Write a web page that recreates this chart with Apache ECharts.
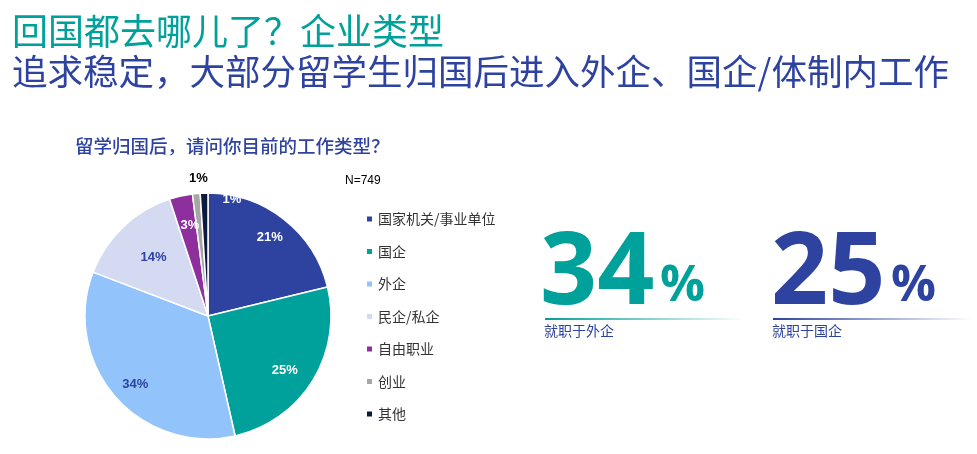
<!DOCTYPE html>
<html>
<head>
<meta charset="UTF-8">
<script src="https://cdn.jsdelivr.net/npm/echarts@6/dist/echarts.min.js"></script>
<style>html,body{margin:0;height:100%;background:#fff}#main{width:977px;height:454px}</style>
</head>
<body>
<div id="main"></div>
<script>
var categories = ['国家机关/事业单位', '国企', '外企', '民企/私企', '自由职业', '创业', '其他'];
var shares = [21, 25, 34, 14, 3, 1, 1];
var colors = ['#2E43A0', '#00A19A', '#93C3FB', '#D3DAF2', '#8D2F9C', '#A6A6A6', '#0D1A3A'];

var font = '"Noto Sans CJK SC", sans-serif';
var myChart = echarts.init(document.getElementById('main'));

// hand-placed label nudges to match the original slide
var labelTweaks = [
  { color: '#fff', offset: [22, -28] },
  { color: '#fff', offset: [22, 20] },
  { color: '#2E43A0', offset: [-24, 26] },
  { color: '#2E43A0', offset: [-10, -12] },
  { color: '#fff', offset: [-4, -28] },
  { position: 'outside', color: '#000', distance: 2, offset: [48, 0] },
  { color: '#fff', offset: [26, -52] }
];

var data = categories.map(function (c, i) {
  return { name: c, value: shares[i], itemStyle: { color: colors[i] }, label: labelTweaks[i] };
});

var option = {
  animation: false,
  legend: {
    orient: 'vertical', left: 360, top: 207, itemGap: 18.5, itemWidth: 7, itemHeight: 7,
    icon: 'rect', textStyle: { fontFamily: font, fontSize: 14, color: '#333' },
    data: categories
  },
  graphic: [
    { type: 'text', left: 12, top: 13, style: { text: '回国都去哪儿了？企业类型', fill: '#00A19A', font: '36px ' + font } },
    { type: 'text', left: 12, top: 54, style: { text: '追求稳定，大部分留学生归国后进入外企、国企/体制内工作', fill: '#2E43A0', font: '35.5px ' + font } },
    { type: 'text', left: 75, top: 137, style: { text: '留学归国后，请问你目前的工作类型？', fill: '#2E43A0', font: '500 18.5px ' + font } },
    { type: 'text', left: 345, top: 175, style: { text: 'N=749', fill: '#000', font: '12px Arial' } },
    { type: 'text', left: 540, top: 226, style: { text: '34', fill: '#00A19A', font: 'bold 100px "Open Sans", sans-serif' } },
    { type: 'text', left: 660, top: 262, style: { text: '%', fill: '#00A19A', font: 'bold 50px "Open Sans", sans-serif' } },
    { type: 'rect', shape: { x: 545, y: 318, width: 200, height: 2 }, style: { fill: new echarts.graphic.LinearGradient(0, 0, 1, 0, [{ offset: 0, color: '#00A19A' }, { offset: 1, color: 'rgba(0,161,154,0)' }]) } },
    { type: 'text', left: 544, top: 324, style: { text: '就职于外企', fill: '#2E43A0', font: '14px ' + font } },
    { type: 'text', left: 771, top: 226, style: { text: '25', fill: '#2E43A0', font: 'bold 100px "Open Sans", sans-serif' } },
    { type: 'text', left: 891, top: 262, style: { text: '%', fill: '#2E43A0', font: 'bold 50px "Open Sans", sans-serif' } },
    { type: 'rect', shape: { x: 773, y: 318, width: 200, height: 2 }, style: { fill: new echarts.graphic.LinearGradient(0, 0, 1, 0, [{ offset: 0, color: '#2E43A0' }, { offset: 1, color: 'rgba(46,67,160,0)' }]) } },
    { type: 'text', left: 772, top: 324, style: { text: '就职于国企', fill: '#2E43A0', font: '14px ' + font } }
  ],
  series: [{
    type: 'pie', center: [208, 316], radius: 123, startAngle: 90, clockwise: true,
    itemStyle: { borderColor: '#fff', borderWidth: 1.5 },
    label: { show: true, position: 'inside', formatter: '{c}%', fontWeight: 'bold', fontSize: 13, fontFamily: 'Arial' },
    labelLine: { show: false },
    data: data
  }]
};
myChart.setOption(option);
</script>
</body>
</html>
